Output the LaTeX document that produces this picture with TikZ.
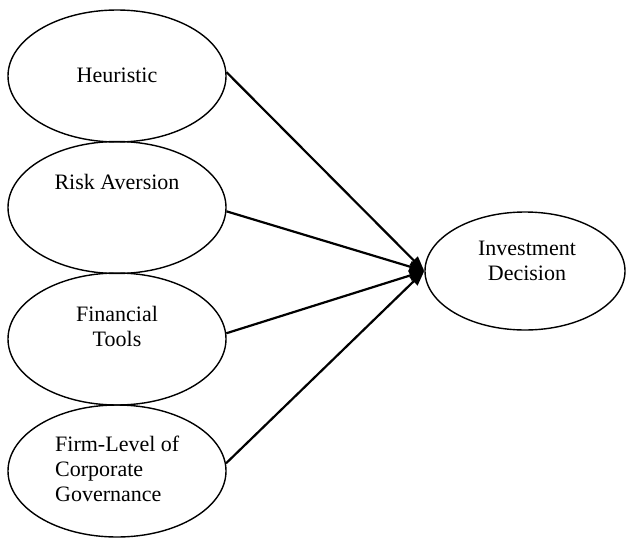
\documentclass[tikz,border=0pt]{standalone}
\usepackage{fontspec}
\setmainfont{Liberation Serif}
\usetikzlibrary{shapes.geometric,arrows.meta}

\begin{document}
\begin{tikzpicture}[x=1pt, y=-1pt, font=\fontsize{22}{25}\selectfont,
	bubble/.style={draw, ellipse, line width=1.4pt, inner sep=0pt, minimum width=218pt, minimum height=132pt},
	txt/.style={anchor=base, inner sep=0pt, align=center},
	link/.style={line width=2.2pt, -{Triangle[length=15pt,width=11pt]}}]
	\useasboundingbox (0,0) rectangle (626,538);
	%ellipses
	\node[bubble] (heur) at (117,76) {};
	\node[bubble] (risk) at (117,207.5) {};
	\node[bubble] (fin) at (117,339) {};
	\node[bubble] (firm) at (117,471) {};
	\node[bubble, minimum width=200pt, minimum height=118pt] (inv) at (525,271) {};
	%labels (base = last line)
	\node[txt] (heurT) at (117,82.5) {Heuristic};
	\node[txt] (riskT) at (117,189) {Risk Aversion};
	\node[txt] (finT) at (117,346) {Financial\\Tools};
	\node[txt, align=left, anchor=base west] (firmT) at (55,501.7) {Firm-Level of\\Corporate\\Governance};
	\node[txt] (invT) at (527,280.7) {Investment\\Decision};
	%arrows
	\draw[link] (heur.2) -- (inv.west);
	\draw[link] (risk.-2) -- (inv.west);
	\draw[link] (fin.3) -- (inv.west);
	\draw[link] (firm.4) -- (inv.west);
\end{tikzpicture}
\end{document}
